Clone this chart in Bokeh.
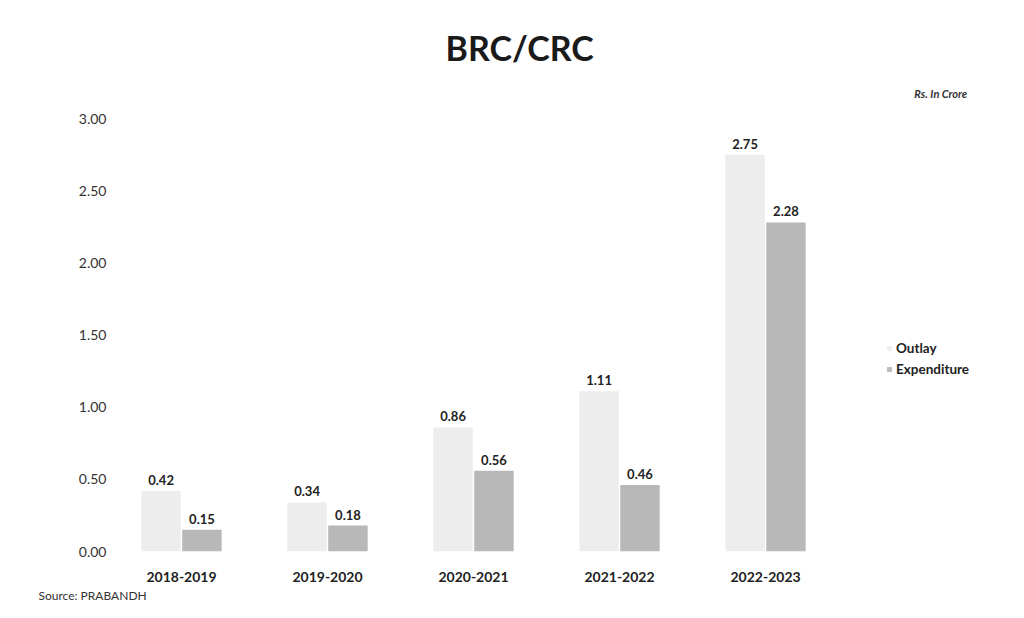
from bokeh.plotting import figure
from bokeh.models import (ColumnDataSource, FixedTicker, PrintfTickFormatter, Legend,
                          LegendItem, Label, Range1d, Title)
from bokeh.core.properties import value
from bokeh.embed import file_html
from bokeh.resources import INLINE

years = ["2018-2019", "2019-2020", "2020-2021", "2021-2022", "2022-2023"]
outlay = [0.42, 0.34, 0.86, 1.11, 2.75]
expenditure = [0.15, 0.18, 0.56, 0.46, 2.28]
y_ticks = [0.0, 0.5, 1.0, 1.5, 2.0, 2.5, 3.0]

FONT = "Lato"
OUTLAY_COLOR = "#ededed"
EXP_COLOR = "#b8b8b8"
BAR_W = 0.27
SHIFT = 0.14

pos = list(range(len(years)))
src = ColumnDataSource(dict(
    pos=pos,
    x_out=[i - SHIFT for i in pos],
    x_exp=[i + SHIFT for i in pos],
    outlay=outlay,
    expenditure=expenditure,
    outlay_txt=["%.2f" % v for v in outlay],
    exp_txt=["%.2f" % v for v in expenditure],
))

p = figure(x_range=Range1d(-0.5, 5.623), y_range=Range1d(0, 3.25),
           width=1008, height=606, output_backend="svg", toolbar_location=None,
           min_border_left=108, min_border_right=6, min_border_top=82, min_border_bottom=55)

p.title.text = "BRC/CRC"
p.title.align = "left"
p.title.offset = 337
p.title.text_font = FONT
p.title.text_font_size = "34px"
p.title.text_font_style = "bold"
p.title.text_color = "#1a1a1a"
p.title.standoff = 29

r1 = p.vbar(x="x_out", top="outlay", width=BAR_W, source=src,
            fill_color=OUTLAY_COLOR, line_color=None)
r2 = p.vbar(x="x_exp", top="expenditure", width=BAR_W, source=src,
            fill_color=EXP_COLOR, line_color=None)

p.text(x="x_out", y="outlay", text="outlay_txt", source=src,
       text_align="center", text_baseline="bottom", y_offset=-6,
       text_font=value(FONT), text_font_size="13px", text_font_style="bold", text_color="#222222")
p.text(x="x_exp", y="expenditure", text="exp_txt", source=src,
       text_align="center", text_baseline="bottom", y_offset=-6,
       text_font=value(FONT), text_font_size="13px", text_font_style="bold", text_color="#222222")

p.xgrid.grid_line_color = None
p.ygrid.grid_line_color = None
p.outline_line_color = None

p.yaxis.ticker = FixedTicker(ticks=y_ticks)
p.yaxis.formatter = PrintfTickFormatter(format="%.2f")
p.yaxis.axis_line_color = None
p.yaxis.major_tick_line_color = None
p.yaxis.minor_tick_line_color = None
p.yaxis.major_tick_out = 0
p.yaxis.major_label_text_font = FONT
p.yaxis.major_label_text_font_size = "14px"
p.yaxis.major_label_text_color = "#333333"
p.yaxis.major_label_standoff = 2

p.xaxis.ticker = FixedTicker(ticks=pos)
p.xaxis.major_label_overrides = {i: y for i, y in zip(pos, years)}
p.xaxis.axis_line_color = None
p.xaxis.major_tick_line_color = None
p.xaxis.minor_tick_line_color = None
p.xaxis.major_label_text_font = FONT
p.xaxis.major_label_text_font_size = "14px"
p.xaxis.major_label_text_font_style = "bold"
p.xaxis.major_label_text_color = "#222222"
p.xaxis.major_label_standoff = 14

legend = Legend(items=[LegendItem(label="Outlay", renderers=[r1]),
                       LegendItem(label="Expenditure", renderers=[r2])],
                location=(778, 174), orientation="vertical",
                glyph_width=6, glyph_height=6, label_text_font=FONT,
                label_text_font_size="13.5px", label_text_font_style="bold",
                label_text_color="#222222", spacing=5, padding=0, margin=0,
                border_line_color=None, background_fill_alpha=0, label_standoff=4)
p.add_layout(legend, "center")

p.add_layout(Label(x=5.20, y=3.174, text="Rs. In Crore", text_font=FONT,
                   text_font_size="11px", text_font_style="bold italic",
                   text_color="#333333", text_align="center", text_baseline="middle"))

src_title = Title(text="Source: PRABANDH", align="left", offset=-70, standoff=2,
                  text_font=FONT, text_font_size="12px", text_font_style="normal",
                  text_color="#333333")
p.add_layout(src_title, "below")

open("out.html", "w").write(file_html(p, INLINE))
